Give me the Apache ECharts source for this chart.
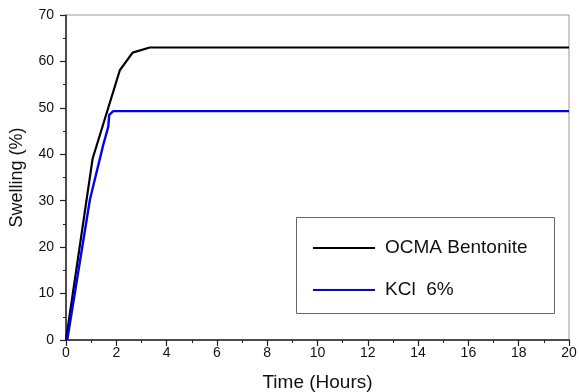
<!DOCTYPE html>
<html><head><meta charset="utf-8">
<script src="https://cdn.jsdelivr.net/npm/echarts@6/dist/echarts.min.js"></script>
<style>html,body{margin:0;padding:0;background:#fff}#c{width:579px;height:392px}</style>
</head><body><div id="c"></div>
<script>
const ocmaX = [0, 1.06, 2.14, 2.65, 3.33, 6, 10, 14, 20];
const ocmaY = [0, 39.1, 58.1, 61.9, 63.0, 63.0, 63.0, 63.0, 63.0];
const kclX = [0.05, 0.95, 1.48, 1.68, 1.72, 1.88, 6, 10, 14, 20];
const kclY = [0, 30.2, 42.0, 45.9, 48.5, 49.3, 49.3, 49.3, 49.3, 49.3];
const seriesNames = ['OCMA Bentonite', 'KCl  6%'];
const xTitle = 'Time (Hours)';
const yTitle = 'Swelling (%)';

const font = 'Liberation Sans, Arial, sans-serif';
const chart = echarts.init(document.getElementById('c'));
chart.setOption({
  animation: false,
  grid: {left: 66, right: 10, top: 15, bottom: 52, containLabel: false, outerBoundsMode: 'none',
         show: true, borderColor: '#999', borderWidth: 1},
  xAxis: {
    type: 'value', min: 0, max: 20, interval: 2,
    name: xTitle, nameLocation: 'middle', nameGap: 33,
    nameTextStyle: {fontFamily: font, fontSize: 19, color: '#111'},
    axisLine: {show: true, lineStyle: {color: '#222', width: 1.5}},
    axisTick: {show: true, length: 6, lineStyle: {color: '#222', width: 1.2}},
    minorTick: {show: true, splitNumber: 2, length: 3, lineStyle: {color: '#222'}},
    splitLine: {show: false},
    axisLabel: {fontFamily: font, fontSize: 14, color: '#111', margin: 6}
  },
  yAxis: {
    type: 'value', min: 0, max: 70, interval: 10,
    name: yTitle, nameLocation: 'middle', nameGap: 40,
    nameTextStyle: {fontFamily: font, fontSize: 18, color: '#111'},
    axisLine: {show: true, lineStyle: {color: '#222', width: 1.5}},
    axisTick: {show: true, length: 6, lineStyle: {color: '#222', width: 1.2}},
    minorTick: {show: true, splitNumber: 2, length: 3, lineStyle: {color: '#222'}},
    splitLine: {show: false},
    axisLabel: {fontFamily: font, fontSize: 14, color: '#111', margin: 12}
  },
  legend: {
    orient: 'vertical', left: 308, top: 233, itemGap: 22,
    itemWidth: 62, itemHeight: 2, icon: 'rect',
    textStyle: {fontFamily: font, fontSize: 19, lineHeight: 20, color: '#111', padding: [0, 0, 0, 5]},
    data: seriesNames
  },
  graphic: [{
    type: 'rect', left: 296, top: 217, z: -1,
    shape: {width: 258, height: 96},
    style: {fill: '#fff', stroke: '#666', lineWidth: 1}
  }],
  series: [
    {name: seriesNames[0], type: 'line', symbol: 'none', color: '#000',
     lineStyle: {width: 2.2, color: '#000'},
     data: ocmaX.map((x, i) => [x, ocmaY[i]])},
    {name: seriesNames[1], type: 'line', symbol: 'none', color: '#0000ff',
     lineStyle: {width: 2.4, color: '#0000ff'},
     data: kclX.map((x, i) => [x, kclY[i]])}
  ]
});
</script></body></html>
